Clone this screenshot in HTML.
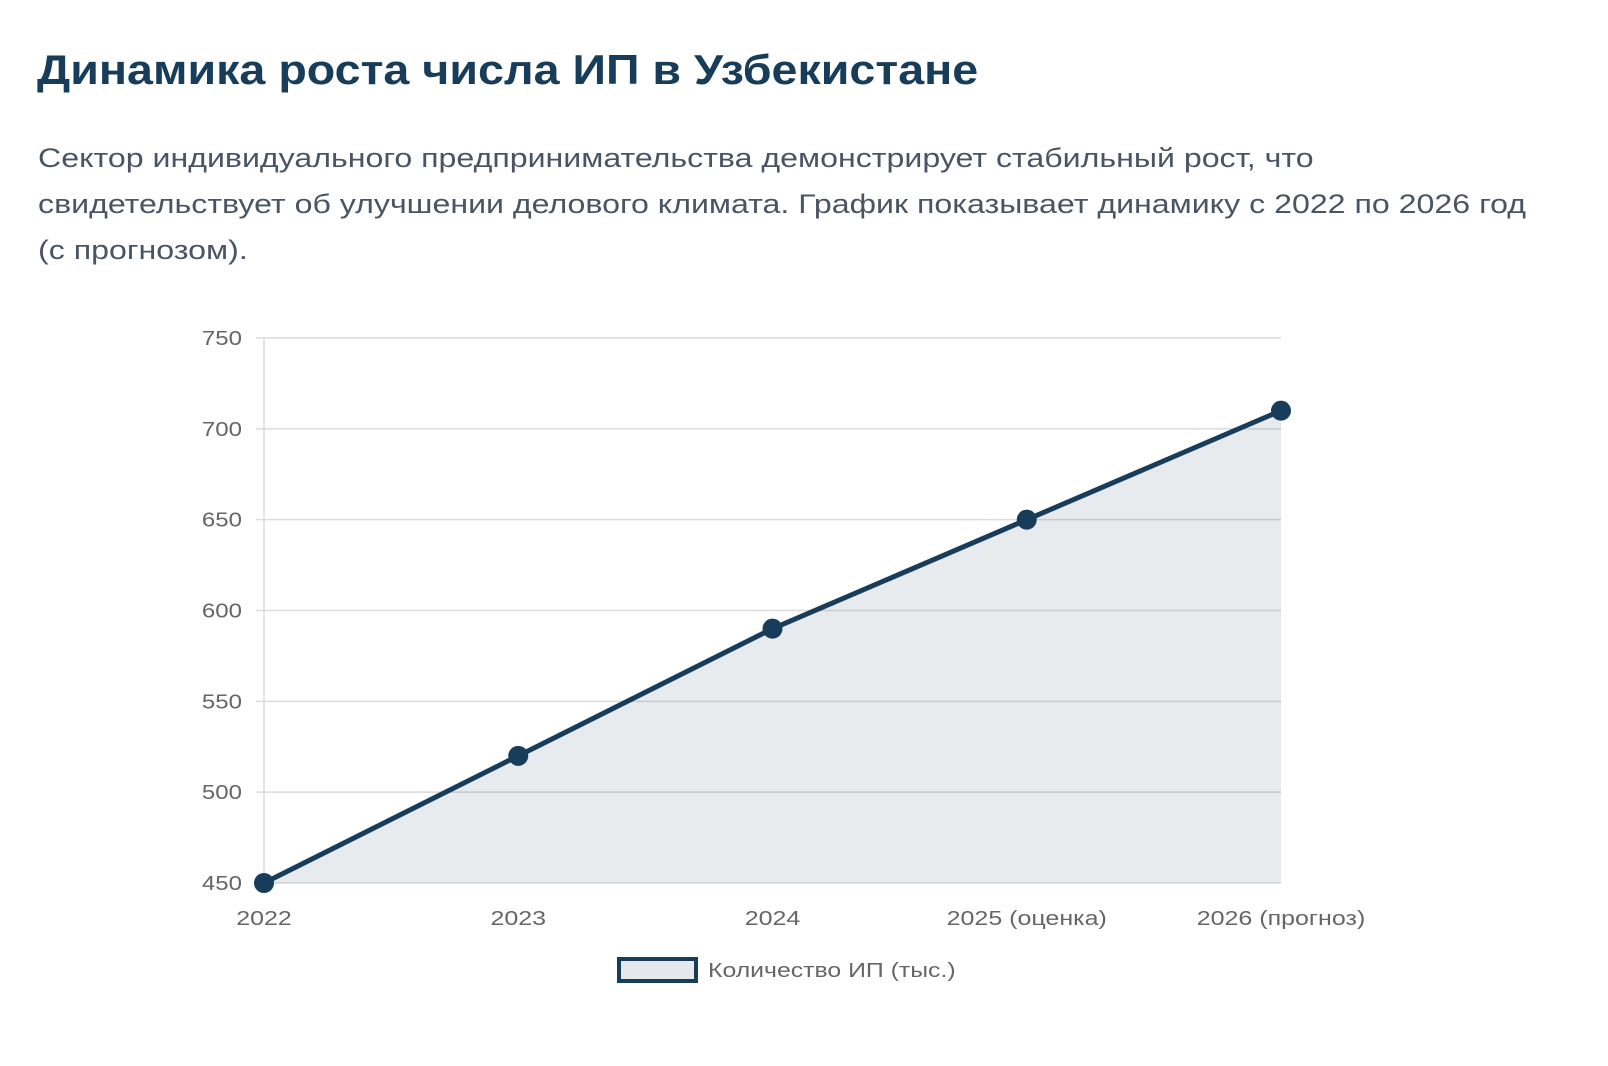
<!DOCTYPE html>
<html><head><meta charset="utf-8">
<style>
html,body{margin:0;padding:0;background:#fff;width:1608px;height:1066px;overflow:hidden;font-family:"Liberation Sans",sans-serif;}
h1{position:absolute;left:37px;top:46px;margin:0;font-size:42px;font-weight:bold;color:#173d5a;white-space:nowrap;transform-origin:0 0;transform:scaleX(1.11);}
p{position:absolute;left:38px;top:135px;margin:0;font-size:27px;line-height:46px;color:#4a5563;white-space:nowrap;transform-origin:0 0;transform:scaleX(1.19);}
svg{position:absolute;left:0;top:0;}
</style></head><body>
<h1>Динамика роста числа ИП в Узбекистане</h1>
<p>Сектор индивидуального предпринимательства демонстрирует стабильный рост, что<br>свидетельствует об улучшении делового климата. График показывает динамику с 2022 по 2026 год<br>(с прогнозом).</p>
<svg id="chart" width="1608" height="1066"></svg>
<script>
const categories=["2022","2023","2024","2025 (оценка)","2026 (прогноз)"];
const values=[450,520,590,650,710];
const yTicks=[450,500,550,600,650,700,750];
const seriesLabel="Количество ИП (тыс.)";
const NS="http://www.w3.org/2000/svg";
const svg=document.getElementById('chart');
const X0=264,X1=1281,Y0=883,Y1=338,YMIN=450,YMAX=750;
const xs=i=>X0+(X1-X0)*i/(categories.length-1);
const ys=v=>Y0-(Y0-Y1)*(v-YMIN)/(YMAX-YMIN);
function el(t,a,p){const e=document.createElementNS(NS,t);for(const k in a)e.setAttribute(k,a[k]);(p||svg).appendChild(e);return e;}
function widen(t,f){const w=t.getComputedTextLength();t.setAttribute('textLength',w*f);t.setAttribute('lengthAdjust','spacingAndGlyphs');}
yTicks.forEach(t=>{
  const l=el('line',{x1:X0-8,x2:X1,y1:ys(t),y2:ys(t),stroke:'#dcdcdc','stroke-width':1.5});
  
  
  const tx=el('text',{x:242,y:ys(t)+7,'text-anchor':'end','font-size':20,fill:'#666'});
  tx.textContent=t;
  
  
  widen(tx,1.2);
});
const ax=el('line',{x1:X0,x2:X0,y1:Y1,y2:Y0+8,stroke:'#dcdcdc','stroke-width':1.5});


categories.forEach((c,i)=>{
  const tx=el('text',{x:xs(i),y:925,'text-anchor':'middle','font-size':20,fill:'#666'});
  tx.textContent=c;
  
  
  widen(tx,1.25);
});
let d=values.map((v,i)=>(i?'L':'M')+xs(i)+' '+ys(v)).join(' ');
const area=el('path',{d:d+` L${xs(values.length-1)} ${Y0} L${X0} ${Y0} Z`,fill:'rgba(23,61,90,0.1)'});


const line=el('path',{d:d,fill:'none',stroke:'#173d5a','stroke-width':5,'stroke-linejoin':'round'});


values.forEach((v,i)=>{
  const c=el('circle',{cx:xs(i),cy:ys(v),r:10,fill:'#173d5a'});
  
  
});
const lb=el('rect',{x:619,y:959,width:77,height:22,fill:'#e6e9ec',stroke:'#173d5a','stroke-width':4});


const lt=el('text',{x:708,y:977,'font-size':20,fill:'#666'});
lt.textContent=seriesLabel;


widen(lt,1.24);
</script>
</body></html>
